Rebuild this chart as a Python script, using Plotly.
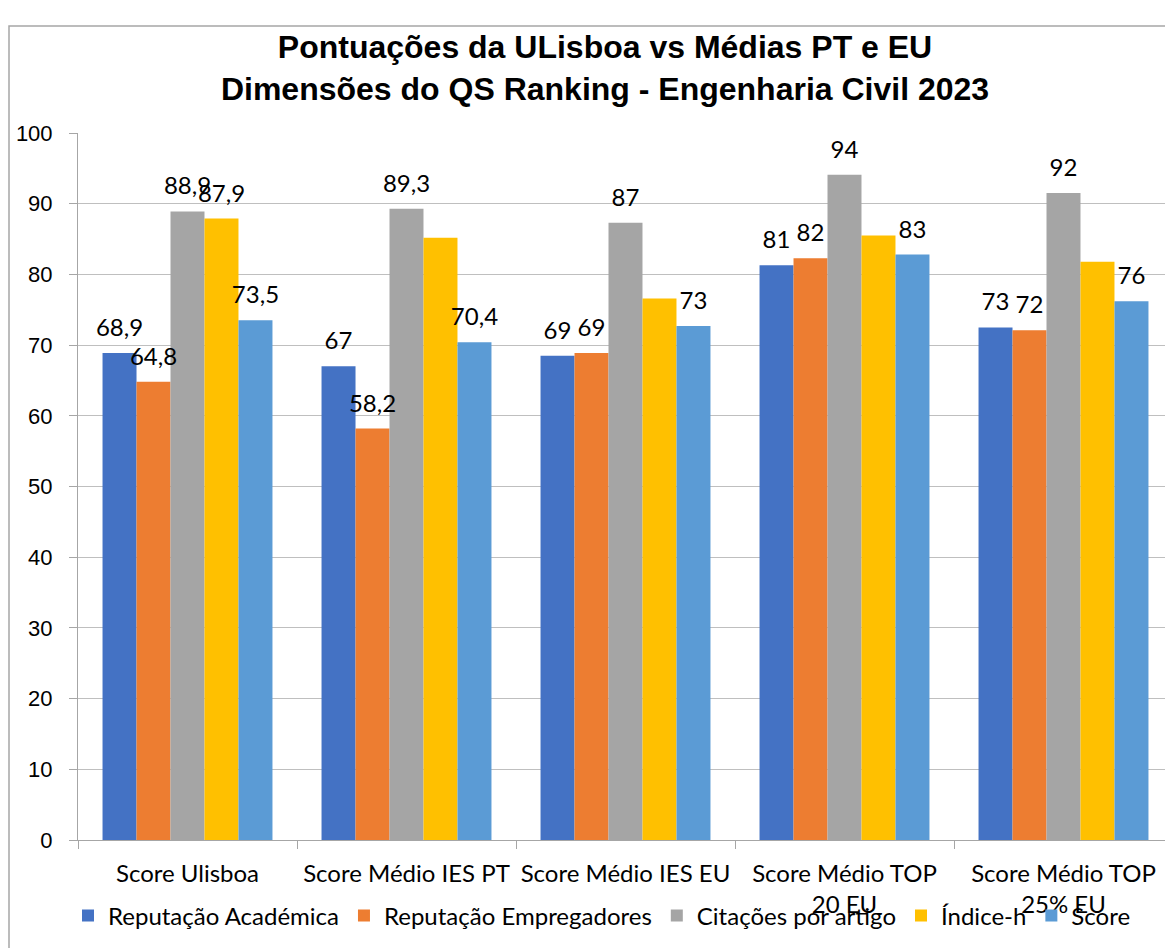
import plotly.graph_objects as go

categories = ["Score Ulisboa", "Score Médio IES PT", "Score Médio IES EU",
              "Score Médio TOP<br>20 EU", "Score Médio TOP<br>25% EU"]
series_names = ["Reputação Académica", "Reputação Empregadores", "Citações por artigo", "Índice-h", "Score"]

rep_academica = [68.9, 67.0, 68.5, 81.3, 72.5]
rep_empregadores = [64.8, 58.2, 68.9, 82.3, 72.1]
citacoes = [88.9, 89.3, 87.3, 94.1, 91.5]
indice_h = [87.9, 85.2, 76.6, 85.5, 81.8]
score = [73.5, 70.4, 72.7, 82.8, 76.2]

lbl_academica = ["68,9", "67", "69", "81", "73"]
lbl_empregadores = ["64,8", "58,2", "69", "82", "72"]
lbl_citacoes = ["88,9", "89,3", "87", "94", "92"]
lbl_indice_h = ["87,9", "", "", "", ""]
lbl_score = ["73,5", "70,4", "73", "83", "76"]

colors = ["#4472C4", "#ED7D31", "#A5A5A5", "#FFC000", "#5B9BD5"]

values = [rep_academica, rep_empregadores, citacoes, indice_h, score]
labels = [lbl_academica, lbl_empregadores, lbl_citacoes, lbl_indice_h, lbl_score]

LABEL_FONT = "Lato"

# page has an 8px body margin; figure coordinates below are page coords minus 8
W, H = 1173, 948
L, R, T, B = 70, 8, 125, 116
PW = W - L - R
PH = H - T - B

fig = go.Figure()
for i, (name, vals, col) in enumerate(zip(series_names, values, colors)):
    fig.add_trace(go.Bar(
        x=categories, y=vals, name=name, marker_color=col,
        marker_line_width=0, offsetgroup=str(i),
    ))
for i, (vals, lbls) in enumerate(zip(values, labels)):
    fig.add_trace(go.Scatter(
        x=categories, y=vals, text=lbls, mode="markers+text",
        textposition="top center", offsetgroup=str(i),
        marker=dict(size=16, opacity=0), showlegend=False, hoverinfo="skip",
        textfont=dict(family=LABEL_FONT, size=24, color="#000000"),
        cliponaxis=False,
    ))

fig.update_layout(
    width=W, height=H,
    paper_bgcolor="white", plot_bgcolor="white",
    barmode="group", bargap=0.224, bargroupgap=0,
    scattermode="group", scattergap=0.224,
    margin=dict(l=L, r=R, t=T, b=B),
    title=dict(
        text="<b>Pontuações da ULisboa vs Médias PT e EU<br>Dimensões do QS Ranking - Engenharia Civil 2023</b>",
        x=597/W, xanchor="center", y=1 - 50/H, yanchor="middle",
        font=dict(family="Liberation Sans", size=32, color="#000000"),
    ),
    xaxis=dict(
        showline=True, linecolor="#A6A6A6", linewidth=1,
        ticks="outside", tickson="boundaries", ticklen=8, tickcolor="#A6A6A6",
        tickfont=dict(family=LABEL_FONT, size=24, color="#000000"),
        showgrid=False, ticklabelstandoff=12,
    ),
    yaxis=dict(
        range=[0, 100], dtick=10,
        showline=True, linecolor="#A6A6A6", linewidth=1,
        ticks="outside", ticklen=8, tickcolor="#A6A6A6",
        showgrid=True, gridcolor="#BFBFBF", gridwidth=1,
        tickfont=dict(family="Liberation Sans", size=22, color="#000000"),
        ticklabelstandoff=12, zeroline=False,
    ),
    legend=dict(
        orientation="h", x=-10 / PW, xanchor="left", y=-(908 - (H - B)) / PH, yanchor="middle",
        font=dict(family=LABEL_FONT, size=24, color="#000000"),
        bgcolor="rgba(0,0,0,0)", itemwidth=30, tracegroupgap=0,
    ),
    showlegend=True,
)

fig.add_shape(type="rect", xref="paper", yref="paper",
              x0=(1 - L) / PW, x1=1.05, y0=-0.3, y1=(PH + T - 18) / PH,
              line=dict(color="#A6A6A6", width=1.5), fillcolor="rgba(0,0,0,0)", layer="below")

fig.write_html("out.html")
